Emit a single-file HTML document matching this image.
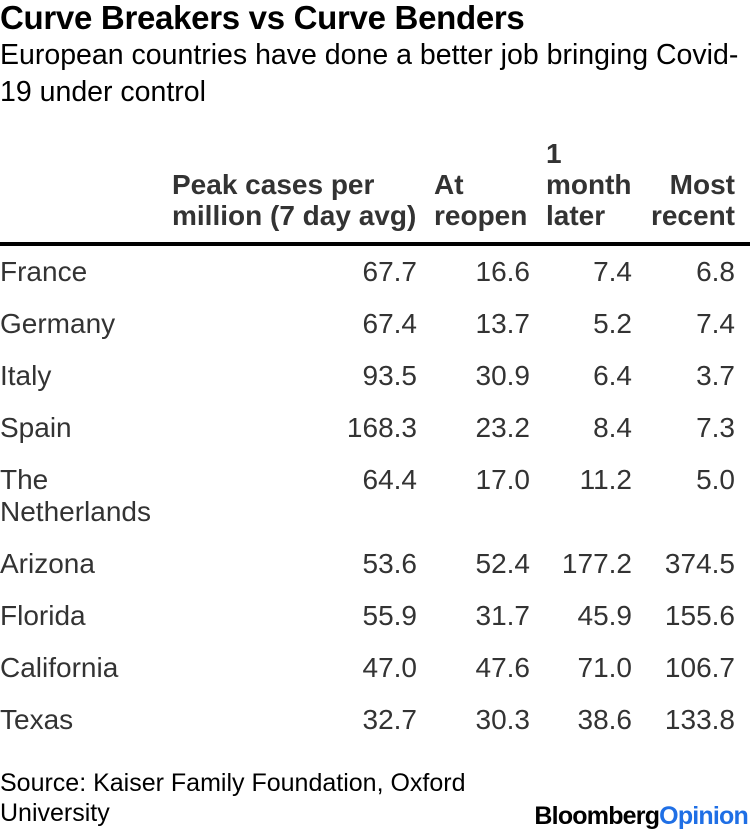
<!DOCTYPE html>
<html><head><meta charset="utf-8"><style>
body{margin:0;width:750px;height:832px;background:#fff;font-family:"Liberation Sans",sans-serif;position:relative;overflow:hidden;color:#333}
.a{position:absolute;white-space:nowrap}
.t{font-weight:bold;font-size:33px;color:#000;left:0;top:-1px;letter-spacing:-0.3px}
.s{font-size:28.5px;color:#000;left:0;line-height:37px;top:37px}
.h{font-weight:bold;font-size:28px;color:#333;line-height:31px}
.r{font-size:28px;line-height:32px}
.n{text-align:right}
</style></head><body>
<div class="a t">Curve Breakers vs Curve Benders</div>
<div class="a s">European countries have done a better job bringing Covid-<br>19 under control</div>
<div class="a h" style="left:172px;top:169px">Peak cases per<br>million (7 day avg)</div>
<div class="a h" style="left:434px;top:169px">At<br>reopen</div>
<div class="a h" style="left:546px;top:138px">1<br>month<br>later</div>
<div class="a h n" style="right:15px;top:169px">Most<br>recent</div>
<div class="a" style="left:0;top:242px;width:750px;height:4px;background:#000"></div>
<div id="rows"></div>
<div class="a r" style="left:0;top:768px;font-size:25px;line-height:30px;color:#000">Source: Kaiser Family Foundation, Oxford<br>University</div>
<div class="a" style="right:2px;top:802px;font-size:25px;font-weight:bold;letter-spacing:-0.8px;color:#000">Bloomberg<span style="color:#1f6fe5">Opinion</span></div>
<script>
const names=["France","Germany","Italy","Spain","The<br>Netherlands","Arizona","Florida","California","Texas"];
const peak=["67.7","67.4","93.5","168.3","64.4","53.6","55.9","47.0","32.7"];
const reopen=["16.6","13.7","30.9","23.2","17.0","52.4","31.7","47.6","30.3"];
const later=["7.4","5.2","6.4","8.4","11.2","177.2","45.9","71.0","38.6"];
const recent=["6.8","7.4","3.7","7.3","5.0","374.5","155.6","106.7","133.8"];
const cont=document.getElementById('rows');
const rights=[333,220,118,15];
let y=256;
names.forEach((nm,i)=>{
  const n=document.createElement('div');n.className='a r';n.style.left='0px';n.style.top=y+'px';n.innerHTML=nm;
  
  
  cont.appendChild(n);
  [peak,reopen,later,recent].forEach((arr,j)=>{
    const c=document.createElement('div');c.className='a r n';c.style.right=rights[j]+'px';c.style.top=y+'px';c.textContent=arr[i];
    
    
    cont.appendChild(c);
  });
  y+=nm.includes('<br>')?84:52;
});
</script>
</body></html>
